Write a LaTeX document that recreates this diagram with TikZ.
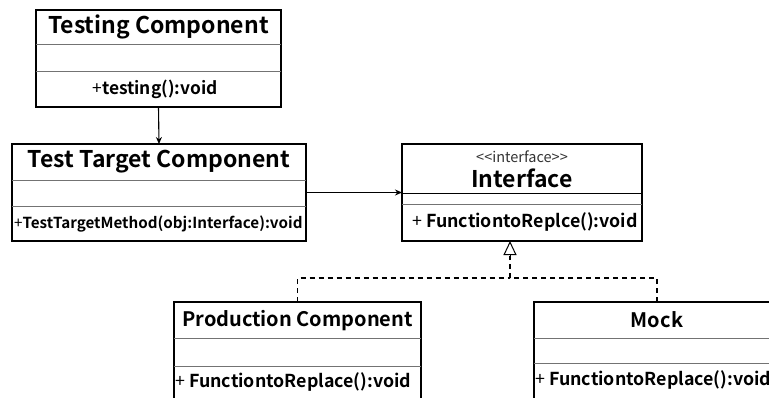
\documentclass[tikz,border=0pt]{standalone}
\usepackage{fontspec}
\newfontfamily\uifont{Noto Sans CJK JP}[BoldFont={Noto Sans CJK JP Bold}]
\usetikzlibrary{arrows.meta}
\tikzset{
  classbox/.style={draw=black, line width=1.1pt, inner sep=0pt, outer sep=0pt, anchor=north west, fill=white},
  divider/.style={draw=black!55, line width=0.9pt},
  title/.style={font=\uifont\bfseries\fontsize{23}{25}\selectfont, inner sep=0pt},
  smalltitle/.style={font=\uifont\bfseries\fontsize{20}{22}\selectfont, inner sep=0pt},
  stereo/.style={font=\uifont\fontsize{14.5}{16}\selectfont, inner sep=0pt, text=black!80},
  method/.style={font=\uifont\bfseries\fontsize{15.2}{17}\selectfont, inner sep=0pt},
  bigmethod/.style={font=\uifont\bfseries\fontsize{17.8}{20}\selectfont, inner sep=0pt},
  assoc/.style={line width=1.1pt, -{Stealth[length=7pt,width=6pt]}},
  realize/.style={line width=1.1pt, dash pattern=on 5pt off 4pt},
  hollowtip/.style={line width=1pt, -{Triangle[open,length=14pt,width=13pt]}}
}
\newcommand{\pl}{{\mdseries +}}
\begin{document}
\begin{tikzpicture}[x=1pt,y=-1pt]
\useasboundingbox (0,0) rectangle (769,397);
\clip (0,0) rectangle (769,397);

% Testing Component
\node[classbox, minimum width=245pt, minimum height=97pt] (tc) at (36,10) {};
\draw[divider] (36,44) -- (281,44);
\draw[divider] (36,71) -- (281,71);
\node[title] (tcname) at (158.5,27) {Testing Component};
\node[bigmethod, font=\uifont\bfseries\fontsize{17.4}{19}\selectfont] (tcop) at (155,89) {\pl testing():void};

% Test Target Component
\node[classbox, minimum width=294pt, minimum height=97pt] (tt) at (12,144) {};
\draw[divider] (12,180) -- (306,180);
\draw[divider] (12,206) -- (306,206);
\node[title] (ttname) at (159,162) {Test Target Component};
\node[method, anchor=west] (ttop) at (14,224) {\pl TestTargetMethod(obj:Interface):void};

% Interface
\node[classbox, minimum width=240pt, minimum height=97pt] (if) at (402,144) {};
\draw[black, line width=0.9pt] (402,193) -- (642,193);
\draw[divider] (402,204) -- (642,204);
\node[stereo] (ifstereo) at (522,157) {<<interface>>};
\node[title] (ifname) at (522,178) {Interface};
\node[bigmethod, anchor=west] (ifop) at (412,222) {\pl{} FunctiontoReplce():void};

% Production Component
\node[classbox, minimum width=247pt, minimum height=110pt] (pc) at (174,302) {};
\draw[divider] (174,338) -- (421,338);
\draw[divider] (174,366) -- (421,366);
\node[smalltitle] (pcname) at (297.5,321) {Production Component};
\node[bigmethod, anchor=west] (pcop) at (175,382) {\pl{} FunctiontoReplace():void};

% Mock
\node[classbox, minimum width=246pt, minimum height=110pt] (mk) at (534,302) {};
\draw[divider] (534,338) -- (780,338);
\draw[divider] (534,363) -- (780,363);
\node[smalltitle] (mkname) at (657,320) {Mock};
\node[bigmethod, anchor=west] (mkop) at (535,380) {\pl{} FunctiontoReplace():void};

% connectors
\draw[assoc] (tc.south) -- (tt.north);
\draw[assoc] (tt.east) -- (if.west);

\coordinate (join) at (510,278);
\coordinate (ifbase) at (510,241);
\coordinate (tail) at (510,256);
\draw[realize] (pc.north) |- (join);
\draw[realize] (mk.north) |- (join);
\draw[realize] (join) -- (tail);
\draw[hollowtip] (tail) -- (ifbase);
\end{tikzpicture}
\end{document}
